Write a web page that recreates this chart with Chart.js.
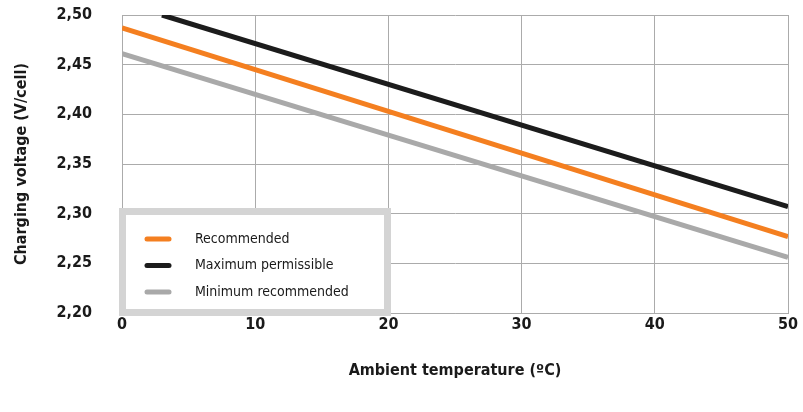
<!DOCTYPE html>
<html>
<head>
<meta charset="utf-8">
<script src="https://cdn.jsdelivr.net/npm/chart.js"></script>
<style>
  html, body { margin: 0; padding: 0; background: #fff; }
  #wrap { width: 803px; height: 412px; }
</style>
</head>
<body>
<div id="wrap"><canvas id="c"></canvas></div>
<script>
// values (temperature in C, voltage in V/cell)
const seriesNames = ["Recommended", "Maximum permissible", "Minimum recommended"];
const recommendedT = [0, 50];
const recommendedV = [2.487, 2.277];
const maxT = [3, 50];
const maxV = [2.50, 2.307];
const minT = [0, 50];
const minV = [2.461, 2.256];
const xTicks = [0, 10, 20, 30, 40, 50];
const yTicks = [2.20, 2.25, 2.30, 2.35, 2.40, 2.45, 2.50];

const COLORS = ["#f47f20", "#1c1c1c", "#a9a9a9"];
const FONT = "'DejaVu Sans Condensed', 'Liberation Sans Narrow', sans-serif";

function pts(t, v) {
  return t.map((x, i) => ({ x, y: v[i] }));
}

// legend drawn as a framed box inside the plot, bottom left
const boxLegend = {
  id: "boxLegend",
  afterDraw(chart) {
    const ctx = chart.ctx;
    const x0 = 119, y0 = 208, w = 272, h = 108;
    ctx.save();
    ctx.fillStyle = "#fff";
    ctx.fillRect(x0, y0, w, h);
    ctx.strokeStyle = "#d4d4d4";
    ctx.lineWidth = 7;
    ctx.strokeRect(x0 + 3.5, y0 + 3.5, w - 7, h - 7);
    ctx.font = "14px " + FONT;
    ctx.textBaseline = "middle";
    ctx.lineCap = "round";
    seriesNames.forEach((name, i) => {
      const y = y0 + 31 + i * 26.5;
      ctx.strokeStyle = COLORS[i];
      ctx.lineWidth = 5;
      ctx.beginPath();
      ctx.moveTo(147, y);
      ctx.lineTo(169, y);
      ctx.stroke();
      ctx.fillStyle = "#1a1a1a";
      ctx.fillText(name, 195, y);
    });
    ctx.restore();
  }
};

new Chart(document.getElementById("c"), {
  type: "scatter",
  data: {
    datasets: [
      { label: seriesNames[0], data: pts(recommendedT, recommendedV) },
      { label: seriesNames[1], data: pts(maxT, maxV) },
      { label: seriesNames[2], data: pts(minT, minV) },
    ].map((d, i) => ({
      ...d,
      showLine: true,
      borderColor: COLORS[i],
      backgroundColor: COLORS[i],
      borderWidth: 5,
      pointRadius: 0,
      borderCapStyle: "butt",
    }))
  },
  options: {
    responsive: true,
    maintainAspectRatio: false,
    animation: false,
    layout: { padding: { left: 0, right: 15, top: 15, bottom: 0 } },
    plugins: { legend: { display: false }, tooltip: { enabled: false } },
    scales: {
      x: {
        type: "linear",
        min: 0, max: 50,
        afterBuildTicks: (s) => { s.ticks = xTicks.map((v) => ({ value: v })); },
        afterFit: (s) => { s.height = 99; },
        grid: { color: "#ababab", lineWidth: 1, drawTicks: false },
        border: { color: "#ababab" },
        ticks: { color: "#1a1a1a", padding: 2, font: { family: FONT, size: 16, weight: "bold" } },
        title: {
          display: true, text: "Ambient temperature (ºC)", color: "#1a1a1a",
          font: { family: FONT, size: 16, weight: "bold" },
          padding: { top: 0, bottom: 32 }
        }
      },
      y: {
        min: 2.20, max: 2.50,
        afterBuildTicks: (s) => { s.ticks = yTicks.map((v) => ({ value: v })); },
        // tick padding also pads top/bottom, drop that so the plot starts at the top
        afterFit: (s) => { s.width = 122; s.paddingTop = 0; s.paddingBottom = 0; },
        grid: { color: "#ababab", lineWidth: 1, drawTicks: false },
        border: { color: "#ababab" },
        ticks: {
          color: "#1a1a1a", padding: 30,
          font: { family: FONT, size: 16, weight: "bold" },
          callback: (v) => v.toFixed(2).replace(".", ",")
        },
        title: {
          display: true, text: "Charging voltage (V/cell)", color: "#1a1a1a",
          font: { family: FONT, size: 16, weight: "bold" },
          padding: { top: 12, bottom: 0 }
        }
      }
    }
  },
  plugins: [boxLegend]
});
</script>
</body>
</html>
